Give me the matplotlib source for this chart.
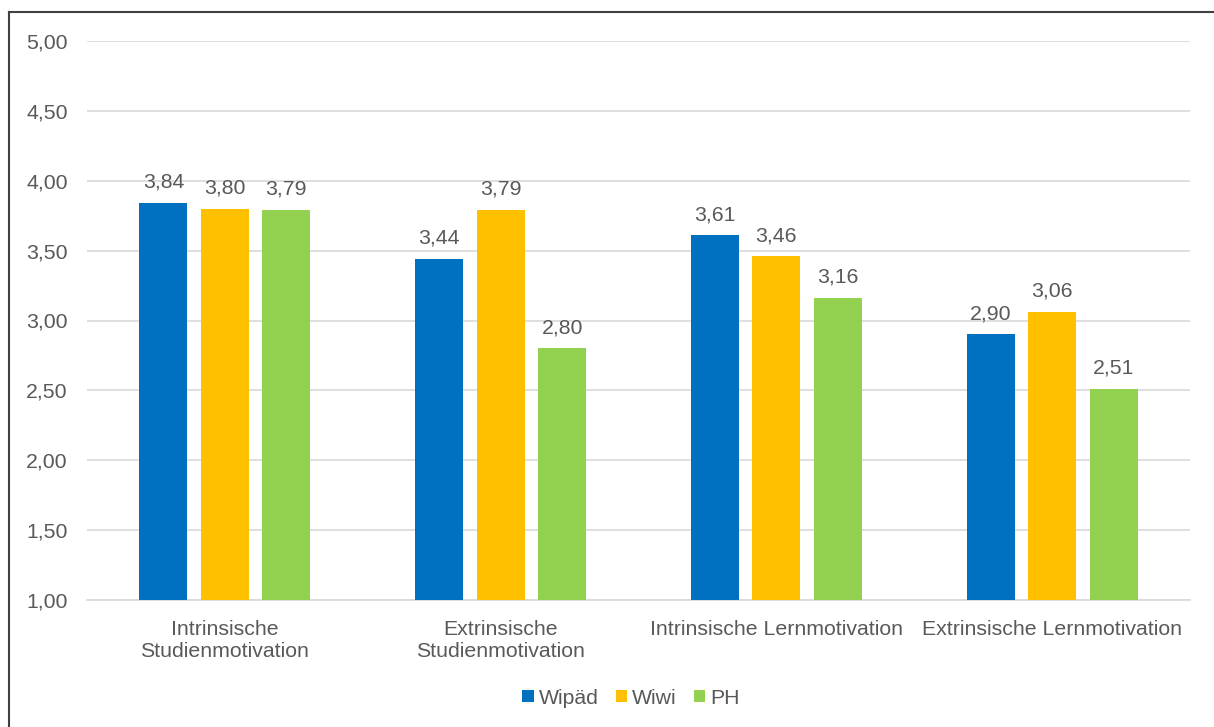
import matplotlib
matplotlib.use("Agg")
import matplotlib.pyplot as plt
from matplotlib.lines import Line2D
from matplotlib.ticker import FixedLocator, FuncFormatter
import numpy as np

categories = ["Intrinsische\nStudienmotivation", "Extrinsische\nStudienmotivation",
              "Intrinsische Lernmotivation", "Extrinsische Lernmotivation"]
series_names = ["Wipäd", "Wiwi", "PH"]
wipaed = [3.84, 3.44, 3.61, 2.90]
wiwi = [3.80, 3.79, 3.46, 3.06]
ph = [3.79, 2.80, 3.16, 2.51]
colors = ["#0070C0", "#FFC000", "#92D050"]
yticks = [1.0, 1.5, 2.0, 2.5, 3.0, 3.5, 4.0, 4.5, 5.0]

plt.rcParams['font.family'] = ['Liberation Sans', 'DejaVu Sans']
txt = "#595959"
fs = 15.3

fig = plt.figure(figsize=(12.14, 7.27), dpi=100)
ax = fig.add_axes([87/1214, 1-600/727, (1190-87)/1214, (600-41)/727])

x = np.arange(len(categories))
slot = 61.5/276
width = 48/276
for i, (name, vals) in enumerate(zip(series_names, [wipaed, wiwi, ph])):
    pos = x + (i-1)*slot
    ax.bar(pos, np.array(vals)-1.0, bottom=1.0, width=width, color=colors[i], label=name, zorder=3)
    for p, v in zip(pos, vals):
        ax.text(p, v + 0.08, f"{v:.2f}".replace(".", ","), ha="center", va="bottom",
                fontsize=fs, color=txt)

ax.set_xlim(-0.5, len(categories)-0.5)
ax.set_ylim(1.0, 5.0)
ax.yaxis.set_major_locator(FixedLocator(yticks))
ax.yaxis.set_major_formatter(FuncFormatter(lambda v, p: f"{v:.2f}".replace(".", ",")))
ax.grid(axis="y", color="#D9D9D9", linewidth=1.2, zorder=0)
ax.set_xticks(x)
ax.set_xticklabels(categories, fontsize=fs, color=txt, linespacing=1.2)
ax.tick_params(axis="y", labelsize=fs, labelcolor=txt, length=0, pad=14)
ax.tick_params(axis="x", length=0, pad=14.5)
for s in ["top", "right", "left"]:
    ax.spines[s].set_visible(False)
ax.spines["bottom"].set_color("#D9D9D9")
ax.spines["bottom"].set_linewidth(1.2)

leg = fig.legend(loc="center", bbox_to_anchor=(631/1214, 1-698/727), ncol=3, frameon=False,
                 fontsize=fs, handlelength=0.52, handleheight=0.52, handletextpad=0.25,
                 columnspacing=0.8)
for t in leg.get_texts():
    t.set_color(txt)

# figure border (top and left)
fig.add_artist(Line2D([9/1214, 1.0], [1-12/727, 1-12/727], transform=fig.transFigure,
                      color="#404040", linewidth=1.5))
fig.add_artist(Line2D([9/1214, 9/1214], [0.0, 1-12/727], transform=fig.transFigure,
                      color="#404040", linewidth=1.5))

fig.savefig("out.png", dpi=100)
